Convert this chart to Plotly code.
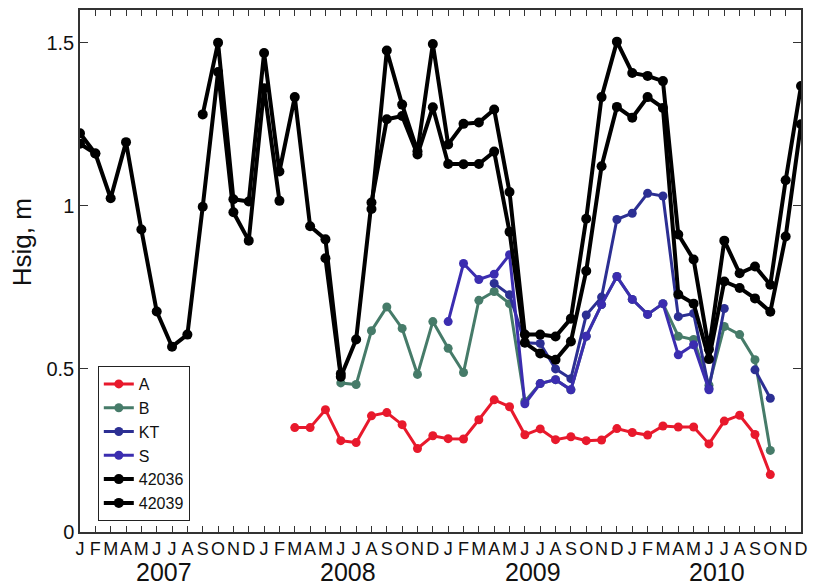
import plotly.graph_objects as go

# Monthly index: 0 = Jan 2007 ... 47 = Dec 2010
months = list(range(48))
month_letters = ["J", "F", "M", "A", "M", "J", "J", "A", "S", "O", "N", "D"] * 4
years = ["2007", "2008", "2009", "2010"]

N = None

# Monthly mean significant wave height (m)
hs_A = [N] * 14 + [
    0.32, 0.32, 0.375, 0.28, 0.274, 0.356, 0.366, 0.329, 0.256, 0.295,
    0.286, 0.285, 0.344, 0.405, 0.384, 0.298, 0.316, 0.283, 0.292, 0.28, 0.282, 0.317,
    0.305, 0.297, 0.325, 0.322, 0.322, 0.27, 0.34, 0.358, 0.299, 0.176, N, N]

hs_B = [N] * 17 + [
    0.457, 0.452, 0.617, 0.69, 0.624, 0.483, 0.645,
    0.563, 0.489, 0.71, 0.737, 0.70, 0.40, 0.455, 0.467, 0.436, 0.60, 0.697, 0.783,
    0.713, 0.667, 0.70, 0.60, 0.59, 0.45, 0.63, 0.605, 0.528, 0.25, N, N]

hs_KT = [N] * 27 + [
    0.762, 0.727, 0.58, 0.578, 0.50, 0.47, 0.665, 0.72, 0.958,
    0.977, 1.038, 1.03, 0.66, 0.67, 0.44, 0.685, N, 0.497, 0.41, N, N]

hs_S = [N] * 24 + [
    0.645, 0.823, 0.774, 0.79, 0.85, 0.393, 0.455, 0.467, 0.436, 0.60, 0.697, 0.783,
    0.713, 0.667, 0.70, 0.543, 0.574, 0.436, N, N, N, N, N, N]

hs_42036 = [
    1.19, 1.16, N, N, N, N, N, N, 1.28, 1.50, 1.02, 1.013,
    1.468, 1.105, 1.333, 0.937, 0.897, 0.485, N, 0.99, 1.476, 1.31, 1.167, 1.496,
    1.188, 1.251, 1.255, 1.295, 1.042, 0.605, 0.605, 0.599, 0.654, 0.96, 1.333, 1.503,
    1.407, 1.398, 1.382, 0.912, 0.835, 0.56, 0.893, 0.793, 0.814, 0.758, 1.078, 1.367]

hs_42039 = [
    1.222, 1.16, 1.023, 1.195, 0.927, 0.676, 0.568, 0.605, 0.997, 1.41, 0.98, 0.893,
    1.36, 1.015, N, N, 0.839, 0.476, 0.59, 1.01, 1.265, 1.275, 1.157, 1.302,
    1.128, 1.127, 1.128, 1.166, 0.92, 0.58, 0.547, 0.528, 0.584, 0.80, 1.121, 1.303,
    1.27, 1.333, 1.30, 0.728, 0.70, 0.53, 0.768, 0.748, 0.716, 0.675, 0.906, 1.25]

series = [
    ("A", hs_A, "#e8192c", 3, 9),
    ("B", hs_B, "#467b69", 3, 9),
    ("KT", hs_KT, "#2c2f93", 3, 9),
    ("S", hs_S, "#3b2db0", 3, 9),
    ("42036", hs_42036, "#000000", 4, 10),
    ("42039", hs_42039, "#000000", 4, 10),
]

FONT = "Liberation Sans, Arial, Helvetica, sans-serif"

fig = go.Figure()
for name, vals, color, lw, ms in series:
    fig.add_trace(go.Scatter(
        x=months, y=vals, name=name, mode="lines+markers",
        line=dict(color=color, width=lw),
        marker=dict(color=color, size=ms, symbol="circle"),
        connectgaps=False,
    ))

# Year labels centred under each year's months
for i, yr in enumerate(years):
    fig.add_annotation(
        x=12 * i + 5.5, y=0, xref="x", yref="paper", yanchor="middle",
        yshift=-40, text=yr, showarrow=False,
        font=dict(family=FONT, size=25, color="#111"))

# Y-axis title
fig.add_annotation(
    x=0, y=0.555, xref="paper", yref="paper", xanchor="center", yanchor="middle",
    xshift=-58, text="Hsig, m", textangle=-90, showarrow=False,
    font=dict(family=FONT, size=26, color="#111"))

fig.update_layout(
    width=816, height=587,
    margin=dict(l=80, r=8, t=10, b=55),
    paper_bgcolor="white", plot_bgcolor="white",
    font=dict(family=FONT, color="#111"),
    showlegend=True,
    legend=dict(
        x=0.0247, y=0.318, xanchor="left", yanchor="top",
        bgcolor="white", bordercolor="#222", borderwidth=1,
        font=dict(family=FONT, size=16, color="#111"),
        itemwidth=30, tracegroupgap=0,
    ),
)

fig.update_xaxes(
    range=[0, 47], tickmode="array", tickvals=months, ticktext=month_letters,
    tickangle=0,
    ticks="inside", ticklen=6, tickcolor="#333", tickwidth=1,
    showline=True, linecolor="#333", linewidth=1.5, mirror="ticks",
    showgrid=False, zeroline=False,
    tickfont=dict(family=FONT, size=18, color="#111"),
)
fig.update_yaxes(
    range=[0, 1.6], tickmode="array", tickvals=[0, 0.5, 1, 1.5],
    ticktext=["0", "0.5", "1", "1.5"],
    ticks="inside", ticklen=8, tickcolor="#333", tickwidth=1,
    showline=True, linecolor="#333", linewidth=1.5, mirror="ticks",
    showgrid=False, zeroline=False,
    tickfont=dict(family=FONT, size=20, color="#111"),
)

fig.write_html("out.html")
